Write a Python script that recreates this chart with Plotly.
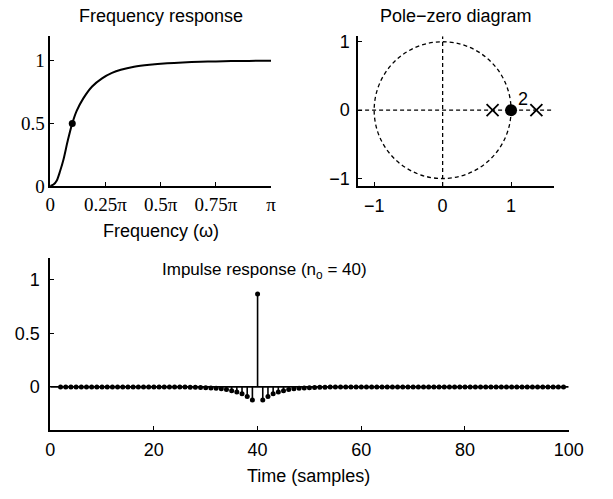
import plotly.graph_objects as go

# ---------------- data ----------------
# Frequency response: omega in units of pi, magnitude
freq_w = [0.0, 0.015, 0.03, 0.045, 0.06, 0.08, 0.1, 0.12, 0.15, 0.19, 0.235,
          0.28, 0.32, 0.38, 0.45, 0.53, 0.6, 0.68, 0.75, 0.82, 0.9, 1.0]
freq_h = [0.0, 0.012, 0.045, 0.12, 0.21, 0.365, 0.5, 0.6, 0.7, 0.795, 0.86,
          0.903, 0.928, 0.952, 0.968, 0.98, 0.987, 0.992, 0.995, 0.998, 0.999, 1.0]
half_w = [0.1]
half_h = [0.5]
freq_ticks = [0, 0.25, 0.5, 0.75, 1]
freq_ticklabels = ["0", "0.25π", "0.5π", "0.75π", "π"]

# Pole-zero diagram
zeros_re = [1.0]
zeros_im = [0.0]
zero_mult = ["2"]
poles_re = [0.73, 1.37]
poles_im = [0.0, 0.0]

# Impulse response, n = 2..99
n = list(range(2, 100))
h = [0.0, 0.0, 0.0, 0.0, 0.0, 0.0, 0.0, 0.0, 0.0, 0.0, 0.0, 0.0,
     0.0, 0.0, 0.0, 0.0, 0.0, 0.0, 0.0, 0.0, 0.0, 0.0, 0.0, 0.0,
     -0.002, -0.003, -0.004, -0.005, -0.007, -0.010, -0.013, -0.018,
     -0.025, -0.035, -0.047, -0.065, -0.089, -0.122,
     0.866,
     -0.122, -0.089, -0.065, -0.047, -0.035, -0.025, -0.018, -0.013,
     -0.010, -0.007, -0.005, -0.004, -0.003, -0.002,
     0.0, 0.0, 0.0, 0.0, 0.0, 0.0, 0.0, 0.0, 0.0, 0.0, 0.0, 0.0, 0.0, 0.0, 0.0,
     0.0, 0.0, 0.0, 0.0, 0.0, 0.0, 0.0, 0.0, 0.0, 0.0, 0.0, 0.0, 0.0, 0.0, 0.0,
     0.0, 0.0, 0.0, 0.0, 0.0, 0.0, 0.0, 0.0, 0.0, 0.0, 0.0, 0.0, 0.0, 0.0, 0.0]
n_o = 40

# ---------------- figure ----------------
W, H = 613, 499
SANS = "Liberation Sans, Arial, sans-serif"
SERIF = "Liberation Serif, Times New Roman, serif"
FS = 18

fig = go.Figure()

# Frequency response
fig.add_trace(go.Scatter(x=freq_w, y=freq_h, mode="lines", line=dict(color="black", width=2, shape="spline", smoothing=0.8),
                         xaxis="x", yaxis="y", showlegend=False, hoverinfo="skip"))
fig.add_trace(go.Scatter(x=half_w, y=half_h, mode="markers", marker=dict(color="black", size=7),
                         xaxis="x", yaxis="y", showlegend=False))

# Pole-zero
fig.add_trace(go.Scatter(x=poles_re, y=poles_im, mode="markers",
                         marker=dict(symbol="x-thin", size=12, line=dict(color="black", width=1.8)),
                         xaxis="x2", yaxis="y2", showlegend=False))
fig.add_trace(go.Scatter(x=zeros_re, y=zeros_im, mode="markers",
                         marker=dict(symbol="circle", size=12, color="black"),
                         xaxis="x2", yaxis="y2", showlegend=False))

# Impulse response stems
sx, sy = [], []
for xi, yi in zip(n, h):
    sx += [xi, xi, None]
    sy += [0, yi, None]
fig.add_trace(go.Scatter(x=sx, y=sy, mode="lines", line=dict(color="black", width=1.6),
                         xaxis="x3", yaxis="y3", showlegend=False, hoverinfo="skip"))
fig.add_trace(go.Scatter(x=n, y=h, mode="markers", marker=dict(color="black", size=5),
                         xaxis="x3", yaxis="y3", showlegend=False))

def px_x(p):
    return p / W

def px_y(p):
    return 1 - p / H

axis_common = dict(showline=True, linecolor="black", linewidth=1.5, ticks="inside", ticklen=4,
                   tickcolor="black", showgrid=False, zeroline=False, mirror=False)

PZX = [-1.235, 1.63]
PZY = [-1.11, 1.08]

fig.update_layout(
    width=W, height=H, margin=dict(l=0, r=0, t=0, b=0),
    plot_bgcolor="white", paper_bgcolor="white",
    xaxis=dict(domain=[px_x(46.7), px_x(275)], range=[0, 1], tickvals=freq_ticks, ticktext=freq_ticklabels,
               tickfont=dict(family=SERIF, size=19, color="black"), anchor="y", **axis_common),
    yaxis=dict(domain=[px_y(187.7), px_y(32.7)], range=[0, 1.2], tickvals=[0, 0.5, 1], ticktext=["0", "0.5", "1"],
               tickfont=dict(family=SERIF, size=19, color="black"), anchor="x", **axis_common),
    xaxis2=dict(domain=[px_x(365), px_x(567.7)], range=PZX, tickvals=[-1, 0, 1],
                tickfont=dict(family=SANS, size=FS, color="black"), anchor="y2", ticklabelstandoff=3, **axis_common),
    yaxis2=dict(domain=[px_y(187.7), px_y(33.3)], range=PZY, tickvals=[-1, 0, 1],
                tickfont=dict(family=SANS, size=FS, color="black"), anchor="x2", ticklabelstandoff=3, **axis_common),
    xaxis3=dict(domain=[px_x(46.7), px_x(582.7)], range=[0, 100], tickvals=[0, 20, 40, 60, 80, 100],
                tickfont=dict(family=SANS, size=FS, color="black"), anchor="y3", ticklabelstandoff=3, **axis_common),
    yaxis3=dict(domain=[px_y(439), px_y(262)], range=[-0.4, 1.2], tickvals=[0, 0.5, 1], ticktext=["0", "0.5", "1"],
                tickfont=dict(family=SANS, size=FS, color="black"), anchor="x3", ticklabelstandoff=5, **axis_common),
)

dash = "4px,3px"
fig.add_shape(type="circle", xref="x2", yref="y2", x0=-1, y0=-1, x1=1, y1=1,
              line=dict(color="black", width=1.3, dash=dash), layer="below")
fig.add_shape(type="line", xref="x2", yref="y2", x0=PZX[0], x1=PZX[1], y0=0, y1=0,
              line=dict(color="black", width=1.3, dash=dash), layer="below")
fig.add_shape(type="line", xref="x2", yref="y2", x0=0, x1=0, y0=PZY[0], y1=PZY[1],
              line=dict(color="black", width=1.3, dash=dash), layer="below")
# stem baseline
fig.add_shape(type="line", xref="x3", yref="y3", x0=0, x1=100, y0=0, y1=0,
              line=dict(color="black", width=1.6), layer="below")

ann_font = dict(family=SANS, size=18, color="black")
fig.add_annotation(text="Frequency response", xref="paper", yref="paper", x=px_x(161), y=px_y(12),
                   showarrow=False, font=ann_font, xanchor="center", yanchor="middle")
fig.add_annotation(text="Pole−zero diagram", xref="paper", yref="paper", x=px_x(466), y=px_y(12),
                   showarrow=False, font=ann_font, xanchor="center", yanchor="middle")
fig.add_annotation(text="Frequency (ω)", xref="paper", yref="paper", x=px_x(161), y=px_y(234),
                   showarrow=False, font=ann_font, xanchor="center", yanchor="middle")
fig.add_annotation(text="Time (samples)", xref="paper", yref="paper", x=px_x(314), y=px_y(487),
                   showarrow=False, font=ann_font, xanchor="center", yanchor="middle")
fig.add_annotation(text="Impulse response (n<sub>o</sub> = %d)" % n_o, xref="paper", yref="paper",
                   x=px_x(268), y=px_y(275), showarrow=False, font=dict(family=SANS, size=17, color="black"),
                   xanchor="center", yanchor="middle")
fig.add_annotation(text=zero_mult[0], xref="x2", yref="y2", x=zeros_re[0] + 0.17, y=zeros_im[0] + 0.17,
                   showarrow=False, font=dict(family=SANS, size=18, color="black"))

fig.write_html("out.html")
